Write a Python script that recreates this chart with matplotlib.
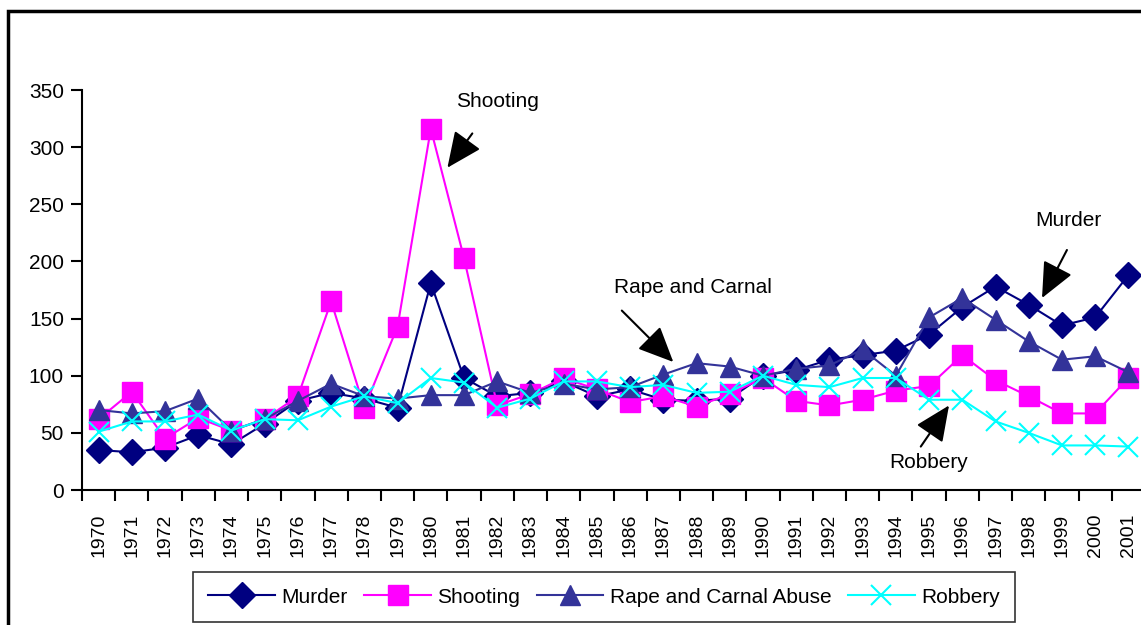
import matplotlib.pyplot as plt
from matplotlib.patches import Rectangle

plt.rcParams['font.family'] = ['Liberation Sans', 'DejaVu Sans']

# data
years = [str(y) for y in range(1970, 2002)]
murder = [35, 33, 37, 48, 40, 58, 78, 85, 80, 72, 181, 98, 82, 85, 95, 82,
          88, 79, 78, 80, 100, 105, 114, 118, 122, 136, 160, 178, 162, 144, 151, 188]
shooting = [62, 86, 45, 63, 52, 62, 82, 165, 72, 143, 316, 203, 74, 84, 98, 88,
            77, 82, 73, 84, 98, 78, 74, 79, 87, 91, 118, 96, 82, 67, 67, 98]
rape = [70, 67, 69, 80, 52, 62, 78, 93, 82, 80, 83, 83, 95, 85, 93, 88,
        90, 101, 111, 108, 100, 106, 109, 123, 100, 151, 168, 149, 130, 114, 117, 103]
robbery = [51, 60, 60, 66, 52, 62, 61, 73, 82, 76, 98, 94, 72, 80, 95, 95,
           90, 92, 85, 86, 100, 92, 90, 98, 98, 79, 79, 60, 50, 39, 39, 38]

W, H = 1141, 625
fig = plt.figure(figsize=(W / 100, H / 100), dpi=100)
ax = fig.add_axes([82 / W, 1 - 490 / H, 1063 / W, 400 / H])

x = list(range(len(years)))
ax.plot(x, murder, color='#000080', marker='D', ms=13, lw=1.5, label='Murder')
ax.plot(x, shooting, color='#ff00ff', marker='s', ms=15, lw=1.5, label='Shooting')
ax.plot(x, rape, color='#333399', marker='^', ms=15, lw=1.5, label='Rape and Carnal Abuse')
ax.plot(x, robbery, color='#00ffff', marker='x', ms=15, mew=1.5, lw=1.5, label='Robbery')

ax.set_xlim(-0.5, len(years) - 0.5)
ax.set_ylim(0, 350)
ax.set_yticks(range(0, 351, 50))
ax.set_xticks(x)
ax.set_xticklabels(years, rotation=90, fontsize=14)
ax.set_xticks([i - 0.5 for i in x], minor=True)
ax.tick_params(axis='x', which='major', length=0, pad=17)
ax.tick_params(axis='x', which='minor', length=8, width=1.5, direction='out')
ax.tick_params(axis='y', length=8, width=1.5, labelsize=15, pad=5)
for s in ['top', 'right']:
    ax.spines[s].set_visible(False)
for s in ['left', 'bottom']:
    ax.spines[s].set_linewidth(1.5)

# annotations with arrows
arrow = dict(arrowstyle='-|>,head_length=1.0,head_width=0.45', color='black',
             lw=1.5, mutation_scale=22, shrinkA=0, shrinkB=0)
ax.text(12.0, 340, 'Shooting', fontsize=15, ha='center', va='center')
ax.annotate('', xy=(10.5, 282), xytext=(11.25, 312), arrowprops=arrow)
ax.text(17.9, 177, 'Rape and Carnal', fontsize=15, ha='center', va='center')
ax.annotate('', xy=(17.3, 112), xytext=(15.75, 157), arrowprops=arrow)
ax.text(29.2, 236, 'Murder', fontsize=15, ha='center', va='center')
ax.annotate('', xy=(28.4, 168), xytext=(29.15, 210), arrowprops=arrow)
ax.text(25.0, 24, 'Robbery', fontsize=15, ha='center', va='center')
ax.annotate('', xy=(25.6, 74), xytext=(24.75, 38), arrowprops=arrow)

leg = fig.legend(loc='upper center', bbox_to_anchor=(604 / W, 1 - 572 / H), ncol=4,
                 fontsize=15, frameon=True, fancybox=False, edgecolor='black',
                 handlelength=3.2, handletextpad=0.3, columnspacing=0.8,
                 borderpad=0.75, borderaxespad=0)
leg.get_frame().set_linewidth(1.2)

# outer frame of the figure
fig.add_artist(Rectangle((8 / W, -0.2), 1.2, 1.2 - 11 / H, transform=fig.transFigure,
                         fill=False, edgecolor='black', lw=2.5))

fig.savefig('out.png', dpi=100)
